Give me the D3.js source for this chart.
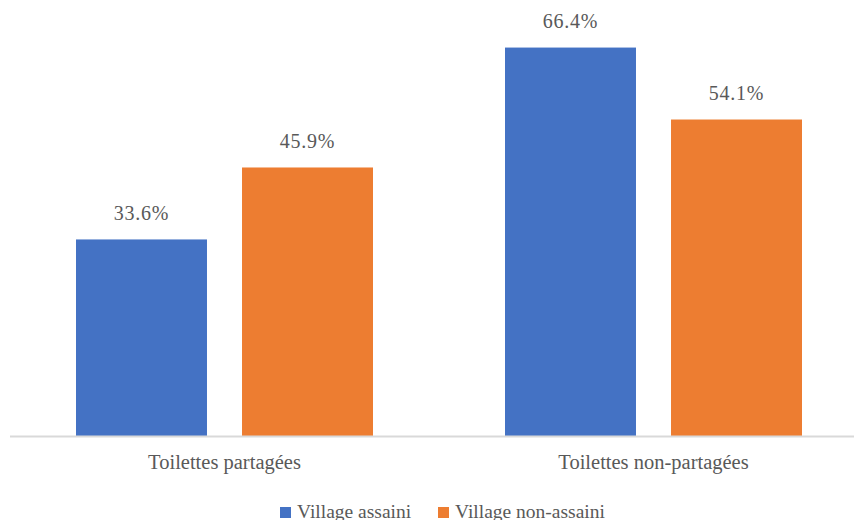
<!DOCTYPE html>
<html>
<head>
<meta charset="utf-8">
<script src="https://cdn.jsdelivr.net/npm/d3@7"></script>
<style>
  html, body { margin: 0; padding: 0; background: #fff; }
  svg { display: block; }
  text { font-family: "Liberation Serif", "DejaVu Serif", serif; fill: #595959; }
</style>
</head>
<body>
<svg id="chart" width="854" height="520"></svg>
<script>
// Share of households by toilet type, sanitised vs non-sanitised villages
const categories = ["Toilettes partagées", "Toilettes non-partagées"];
const seriesNames = ["Village assaini", "Village non-assaini"];
const villageAssaini = [33.6, 66.4];
const villageNonAssaini = [45.9, 54.1];
const seriesColors = ["#4472C4", "#ED7D31"];

const seriesValues = [villageAssaini, villageNonAssaini];

const svg = d3.select("#chart");
const W = 854, H = 520;

const baseline = 436;
const x0 = d3.scaleBand().domain(categories).range([10, 868]).padding(0);
const x1 = d3.scaleBand().domain(seriesNames).range([66, 363]).paddingInner(0.211).paddingOuter(0);
const y = d3.scaleLinear().domain([0, 70]).range([baseline, baseline - 70 * 5.85]);

// bars
const groups = svg.selectAll("g.cat")
  .data(categories)
  .join("g")
  .attr("class", "cat")
  .attr("transform", d => `translate(${x0(d)},0)`);

groups.each(function(cat, ci) {
  const g = d3.select(this);
  const rows = seriesNames.map((s, si) => ({ s, si, v: seriesValues[si][ci] }));
  g.selectAll("rect")
    .data(rows)
    .join("rect")
    .attr("x", d => x1(d.s))
    .attr("y", d => y(d.v))
    .attr("width", x1.bandwidth())
    .attr("height", d => baseline - y(d.v))
    .attr("fill", d => seriesColors[d.si]);
  g.selectAll("text.val")
    .data(rows)
    .join("text")
    .attr("class", "val")
    .attr("x", d => x1(d.s) + x1.bandwidth() / 2)
    .attr("y", d => y(d.v) - 19.5)
    .attr("text-anchor", "middle")
    .style("font-size", "20px")
    .style("letter-spacing", "0.8px")
    .text(d => d.v.toFixed(1) + "%");
});

// category axis
const xAxis = d3.axisBottom(x0).tickSize(0).tickPadding(0);
const axisG = svg.append("g").attr("transform", `translate(0,${baseline})`).call(xAxis);
axisG.select(".domain").remove();
axisG.selectAll("text")
  .attr("y", 33)
  .attr("dy", null)
  .style("font-size", "20.5px")
  .attr("fill", "#595959");

svg.append("line")
  .attr("x1", 10).attr("x2", W)
  .attr("y1", baseline + 0.5).attr("y2", baseline + 0.5)
  .attr("stroke", "#d9d9d9").attr("stroke-width", 2);

// legend
const legendItems = [
  { name: seriesNames[0], color: seriesColors[0], x: 280 },
  { name: seriesNames[1], color: seriesColors[1], x: 438 }
];
const lg = svg.append("g");
const li = lg.selectAll("g").data(legendItems).join("g")
  .attr("transform", d => `translate(${d.x},507)`);
li.append("rect").attr("width", 11).attr("height", 11).attr("fill", d => d.color);
li.append("text").attr("x", 17).attr("y", 10.5)
  .style("font-size", "19.5px")
  .text(d => d.name);
</script>
</body>
</html>
